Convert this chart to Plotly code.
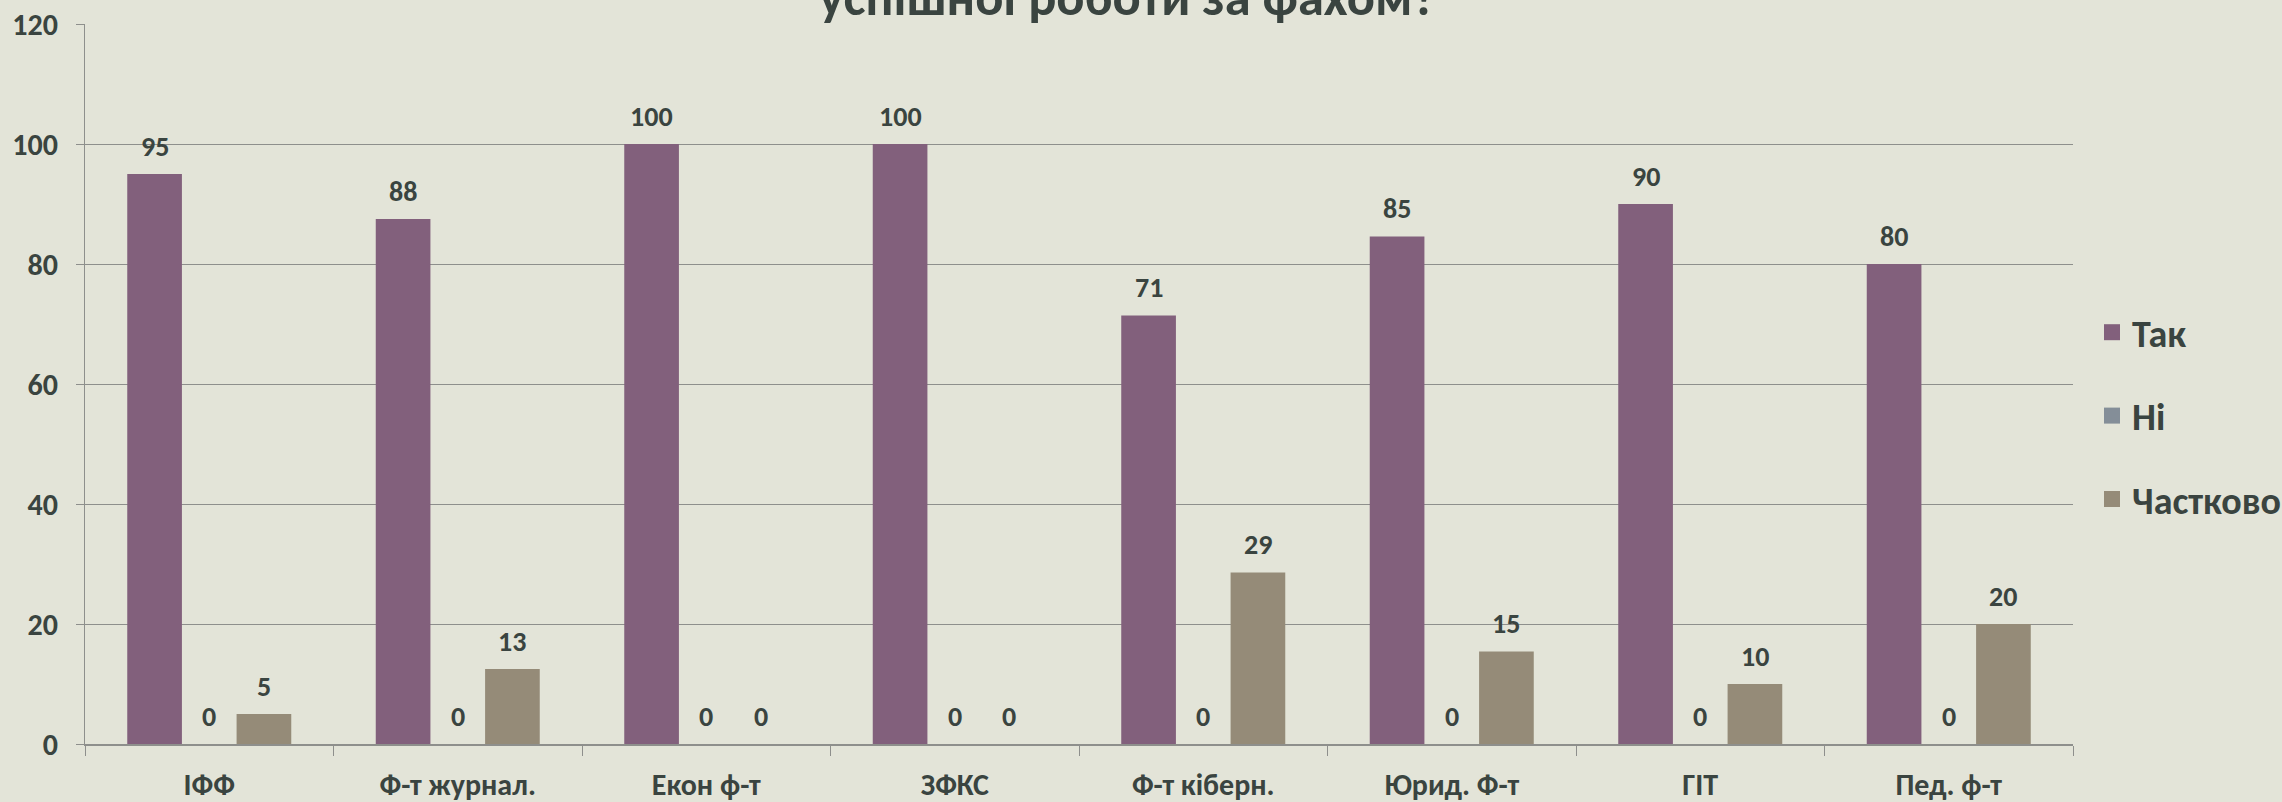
import math
import plotly.graph_objects as go

categories = ["ІФФ", "Ф-т журнал.", "Екон ф-т", "ЗФКС", "Ф-т кіберн.", "Юрид. Ф-т", "ГІТ", "Пед. ф-т"]
tak = [95, 87.5, 100, 100, 71.4, 84.6, 90, 80]
ni = [0, 0, 0, 0, 0, 0, 0, 0]
chastkovo = [5, 12.5, 0, 0, 28.6, 15.4, 10, 20]
series_names = ["Так", "Ні", "Частково"]
title_line = "успішної роботи за фахом?"

colors = ["#82607c", "#848e98", "#958b78"]
BG = "#e3e4d8"
TXT = "#3a4440"
GRID = "#8e8f8c"
FONT = "Carlito, Calibri, Lato, 'Noto Sans', sans-serif"

W, H = 2282, 802
ML, MR, MT, MB = 85, 209, 24, 58
BARGAP = 0.34

fig = go.Figure()
all_series = [tak, ni, chastkovo]
for name, vals, c in zip(series_names, all_series, colors):
    fig.add_trace(go.Bar(
        x=categories, y=vals, name=name, showlegend=False,
        marker=dict(color=c, line=dict(width=0)),
        hoverinfo="x+y",
    ))
# legend entries (larger square swatches)
for k, (name, c) in enumerate(zip(series_names, colors)):
    fig.add_trace(go.Scatter(
        x=[None], y=[None], name=name, mode="markers",
        legendgroup=f"g{k}",
        marker=dict(symbol="square", size=21, color=c, line=dict(width=0)),
    ))

# data labels
plot_w = W - ML - MR
cat_w = plot_w / len(categories)
bar_w = cat_w * (1 - BARGAP) / len(all_series)
def fmt(v):
    return str(int(math.floor(v + 0.5)))
annotations = []
for i, vals in enumerate(all_series):
    for cat, v in zip(categories, vals):
        annotations.append(dict(
            x=cat, y=v, xref="x", yref="y", text=fmt(v), showarrow=False,
            xshift=(i - 1) * bar_w, yshift=28, yanchor="middle",
            font=dict(family=FONT, size=28, color=TXT, weight="bold"),
        ))
annotations.append(dict(
    x=0.5, xref="paper", y=1.038, yref="paper", text=f"<b>{title_line}</b>",
    showarrow=False, yanchor="middle", xanchor="center", xshift=49,
    font=dict(family=FONT, size=52.5, color=TXT),
))

fig.update_layout(
    width=W, height=H,
    margin=dict(l=ML, r=MR, t=MT, b=MB, pad=0, autoexpand=False),
    paper_bgcolor=BG, plot_bgcolor=BG,
    barmode="group", bargap=BARGAP, bargroupgap=0,
    font=dict(family=FONT, color=TXT),
    annotations=annotations,
    showlegend=True,
    legend=dict(
        xref="container", yref="container", x=2092 / W, y=1 - 416 / H,
        xanchor="left", yanchor="middle", tracegroupgap=31,
        font=dict(family=FONT, size=38, color=TXT, weight="bold"),
        bgcolor="rgba(0,0,0,0)", itemwidth=30,
    ),
    xaxis=dict(
        type="category", showline=True, linecolor=GRID, linewidth=1.5,
        ticks="outside", tickson="boundaries", ticklen=10, tickcolor=GRID, tickwidth=1.3,
        tickfont=dict(family=FONT, size=30, color=TXT, weight="bold"),
        ticklabelstandoff=13, showgrid=False, automargin=False,
    ),
    yaxis=dict(
        range=[0, 120], dtick=20, showgrid=True, gridcolor=GRID, gridwidth=1.3,
        showline=True, linecolor=GRID, linewidth=1.3,
        ticks="outside", ticklen=8, tickcolor=GRID, tickwidth=1.3,
        tickfont=dict(family=FONT, size=30, color=TXT, weight="bold"),
        ticklabelstandoff=12, zeroline=False, automargin=False,
    ),
)

fig.write_html("out.html", config={"displayModeBar": False},
               post_script="document.body.style.margin='0';")
